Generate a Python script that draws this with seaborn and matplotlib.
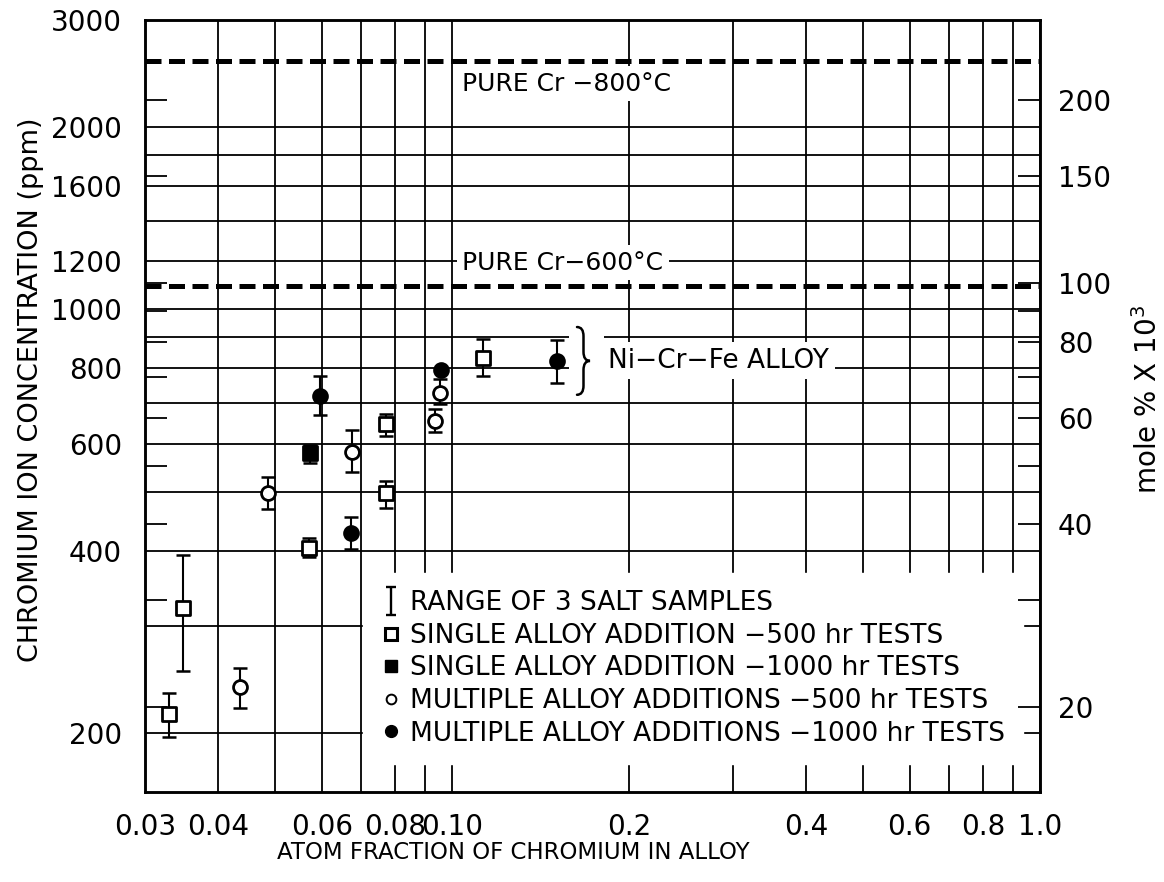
import numpy as np
import pandas as pd
import matplotlib
matplotlib.use("Agg")
import matplotlib.pyplot as plt
import seaborn as sns
from matplotlib.lines import Line2D
from matplotlib.path import Path
from matplotlib.patches import PathPatch, Rectangle
from matplotlib.ticker import FixedLocator, FixedFormatter, NullFormatter

sns.set_theme(style="white")
plt.rcParams["font.family"] = ["DejaVu Sans"]
plt.rcParams["axes.unicode_minus"] = True
plt.rcParams["text.color"] = "black"
plt.rcParams["axes.labelcolor"] = "black"
plt.rcParams["xtick.color"] = "black"
plt.rcParams["ytick.color"] = "black"

# ---- data: atom fraction of Cr in alloy vs Cr ion concentration in salt (ppm)
# each point carries the range (low/high) of three salt samples
single_500_x = [0.0330, 0.0348, 0.0571, 0.0771, 0.0771, 0.1129]
single_500_y = [215, 322, 404, 498, 647, 831]
single_500_lo = [197, 253, 390, 471, 619, 775]
single_500_hi = [233, 393, 419, 522, 672, 894]

single_1000_x = [0.0573]
single_1000_y = [580]
single_1000_lo = [558]
single_1000_hi = [597]

multi_500_x = [0.0435, 0.0486, 0.0674, 0.0934, 0.0953]
multi_500_y = [238, 498, 582, 654, 728]
multi_500_lo = [220, 468, 539, 627, 699]
multi_500_hi = [256, 529, 633, 685, 768]

multi_1000_x = [0.0596, 0.0672, 0.0957, 0.1505]
multi_1000_y = [720, 427, 793, 821]
multi_1000_lo = [670, 403, 793, 756]
multi_1000_hi = [775, 454, 793, 889]

# equilibrium levels over pure chromium
pure_cr_800 = 2570
pure_cr_600 = 1093

# conversion between the two concentration scales
ppm_per_mole = 11.05  # ppm per (mole % x 10^3)

# axis ticks
x_major = [0.03, 0.04, 0.06, 0.08, 0.10, 0.2, 0.4, 0.6, 0.8, 1.0]
x_labels = ["0.03", "0.04", "0.06", "0.08", "0.10", "0.2", "0.4", "0.6", "0.8", "1.0"]
x_minor = [0.05, 0.07, 0.09, 0.3, 0.5, 0.7, 0.9]
y_major = [200, 400, 600, 800, 1000, 1200, 1600, 2000, 3000]
y_minor = [300, 500, 700, 900, 1400, 1800]
mole_ticks = [20, 30, 40, 50, 60, 70, 80, 90, 100, 150, 200]
mole_labels = [20, 40, 60, 80, 100, 150, 200]

legend_labels = [
    "RANGE OF 3 SALT SAMPLES",
    "SINGLE ALLOY ADDITION \u2212500 hr TESTS",
    "SINGLE ALLOY ADDITION \u22121000 hr TESTS",
    "MULTIPLE ALLOY ADDITIONS \u2212500 hr TESTS",
    "MULTIPLE ALLOY ADDITIONS \u22121000 hr TESTS",
]

# ---- figure / axes
W, H, DPI = 1164, 882, 100
fig = plt.figure(figsize=(W / DPI, H / DPI), dpi=DPI)
fig.patch.set_facecolor("white")
ax = fig.add_axes([145 / W, 1 - 792 / H, 895 / W, 772 / H])
ax.set_facecolor("white")
ax.set_xscale("log")
ax.set_yscale("log")
ax.set_xlim(0.03, 1.0)
ax.set_ylim(160, 3000)

ax.xaxis.set_major_locator(FixedLocator(x_major))
ax.xaxis.set_major_formatter(FixedFormatter(x_labels))
ax.xaxis.set_minor_locator(FixedLocator(x_minor))
ax.xaxis.set_minor_formatter(NullFormatter())
ax.yaxis.set_major_locator(FixedLocator(y_major))
ax.yaxis.set_major_formatter(FixedFormatter([str(v) for v in y_major]))
ax.yaxis.set_minor_locator(FixedLocator(y_minor))
ax.yaxis.set_minor_formatter(NullFormatter())

ax.grid(True, which="both", color="black", linewidth=1.3)
ax.set_axisbelow(True)
ax.tick_params(which="both", length=0, colors="black")
ax.tick_params(axis="x", labelsize=20, pad=15)
ax.tick_params(axis="y", labelsize=20, pad=16.5)
for sp in ax.spines.values():
    sp.set_color("black")
    sp.set_linewidth(1.8)

# ---- pure chromium reference levels
for level in (pure_cr_800, pure_cr_600):
    ax.axhline(level, color="black", linewidth=3.6,
               linestyle=(0, (3.2, 1.5)), zorder=2.5)

# ---- data series: range bars + markers
series = [
    (single_500_x, single_500_y, single_500_lo, single_500_hi, "s", "white"),
    (single_1000_x, single_1000_y, single_1000_lo, single_1000_hi, "s", "black"),
    (multi_500_x, multi_500_y, multi_500_lo, multi_500_hi, "o", "white"),
    (multi_1000_x, multi_1000_y, multi_1000_lo, multi_1000_hi, "o", "black"),
]
for xs, ys, lo, hi, mk, face in series:
    df = pd.DataFrame({"x": xs, "y": ys, "lo": lo, "hi": hi})
    ax.errorbar(df["x"], df["y"],
                yerr=[df["y"] - df["lo"], df["hi"] - df["y"]],
                fmt="none", ecolor="black", elinewidth=1.5,
                capsize=5, capthick=1.8, zorder=3)
    sns.scatterplot(data=df, x="x", y="y", marker=mk, s=100, color=face,
                    edgecolor="black", linewidth=2.0, ax=ax, zorder=4,
                    legend=False)

# ---- annotations
box = dict(facecolor="white", edgecolor="none", pad=4)
ax.text(0.1039, 2353, "PURE Cr \u2212800\u00b0C", fontsize=18,
        ha="left", va="center", bbox=box, zorder=3)
ax.text(0.1040, 1193, "PURE Cr\u2212600\u00b0C", fontsize=18,
        ha="left", va="center", bbox=box, zorder=3)
ax.text(0.1842, 823, "Ni\u2212Cr\u2212Fe ALLOY", fontsize=19,
        ha="left", va="center", bbox=box, zorder=3)


def curly_brace(axis, x_data, y_top, y_bot, width_px):
    """Right-pointing curly brace between two y values at a given x."""
    xt, yt = axis.transData.transform((x_data, y_top))
    _, yb = axis.transData.transform((x_data, y_bot))
    ym = 0.5 * (yt + yb)
    w = width_px
    r = 0.7 * w
    xm = xt + 0.5 * w
    verts = [
        (xt, yt), (xm, yt), (xm, yt - r),
        (xm, ym + r),
        (xm, ym), (xt + w, ym),
        (xm, ym), (xm, ym - r),
        (xm, yb + r),
        (xm, yb), (xt, yb),
    ]
    codes = [Path.MOVETO, Path.CURVE3, Path.CURVE3, Path.LINETO,
             Path.CURVE3, Path.CURVE3, Path.CURVE3, Path.CURVE3,
             Path.LINETO, Path.CURVE3, Path.CURVE3]
    inv = axis.transAxes.inverted()
    verts_ax = inv.transform(verts)
    # white backing so grid lines break around the brace
    (bx0, by0) = inv.transform((xt - 8, yb - 4))
    (bx1, by1) = inv.transform((xt + w + 14, yt + 4))
    axis.add_patch(Rectangle((bx0, by0), bx1 - bx0, by1 - by0,
                             transform=axis.transAxes, facecolor="white",
                             edgecolor="none", zorder=2.8))
    axis.add_patch(PathPatch(Path(verts_ax, codes), transform=axis.transAxes,
                             fill=False, edgecolor="black", linewidth=1.8,
                             capstyle="round", zorder=3.2))


curly_brace(ax, 0.163, 935, 723, 13)

# ---- legend
I_path = Path([(-0.35, 1), (0.35, 1), (0, 1), (0, -1), (-0.35, -1), (0.35, -1)],
              [Path.MOVETO, Path.LINETO, Path.MOVETO, Path.LINETO,
               Path.MOVETO, Path.LINETO])
handles = [
    Line2D([], [], linestyle="none", marker=I_path, markersize=20,
           markeredgewidth=1.7, color="black"),
    Line2D([], [], linestyle="none", marker="s", markersize=8,
           markerfacecolor="white", markeredgecolor="black", markeredgewidth=2.2),
    Line2D([], [], linestyle="none", marker="s", markersize=8,
           markerfacecolor="black", markeredgecolor="black"),
    Line2D([], [], linestyle="none", marker="o", markersize=7,
           markerfacecolor="white", markeredgecolor="black", markeredgewidth=1.4),
    Line2D([], [], linestyle="none", marker="o", markersize=8.5,
           markerfacecolor="black", markeredgecolor="black"),
]
leg = ax.legend(handles, legend_labels, loc="upper left",
                bbox_to_anchor=((363 - 145) / 895, 1 - (573 - 20) / 772),
                borderaxespad=0, frameon=True, fancybox=False, framealpha=1,
                edgecolor="white", facecolor="white", fontsize=19.0,
                handlelength=0.8, handletextpad=0.35, labelspacing=0.25,
                borderpad=0.65)
leg.set_zorder(5)
for t in leg.get_texts():
    t.set_color("black")

# ---- axis titles
ax.set_xlabel("ATOM FRACTION OF CHROMIUM IN ALLOY", fontsize=16.5)
ax.xaxis.set_label_coords(0.411, -0.064)
ax.set_ylabel("CHROMIUM ION CONCENTRATION (ppm)", fontsize=19.5)
ax.yaxis.set_label_coords(-0.113, 0.521)

# ---- secondary concentration scale (mole % x 10^3)
ax2 = ax.twinx()
ax2.set_yscale("log")
ax2.set_ylim(160 / ppm_per_mole, 3000 / ppm_per_mole)
ax2.yaxis.set_major_locator(FixedLocator(mole_ticks))
ax2.yaxis.set_major_formatter(FixedFormatter(
    [str(v) if v in mole_labels else "" for v in mole_ticks]))
ax2.yaxis.set_minor_locator(FixedLocator([]))
ax2.tick_params(axis="y", which="major", direction="in", length=16, width=1.3,
                left=True, right=True, labelleft=False, labelright=True,
                labelsize=20, pad=13, colors="black")
ax2.grid(False)
for sp in ax2.spines.values():
    sp.set_color("black")
    sp.set_linewidth(1.8)
ax2.set_ylabel("mole % X 10$^3$", fontsize=20)
ax2.yaxis.set_label_coords(1.104, 0.508)

fig.savefig("out.png", dpi=DPI, facecolor="white")
